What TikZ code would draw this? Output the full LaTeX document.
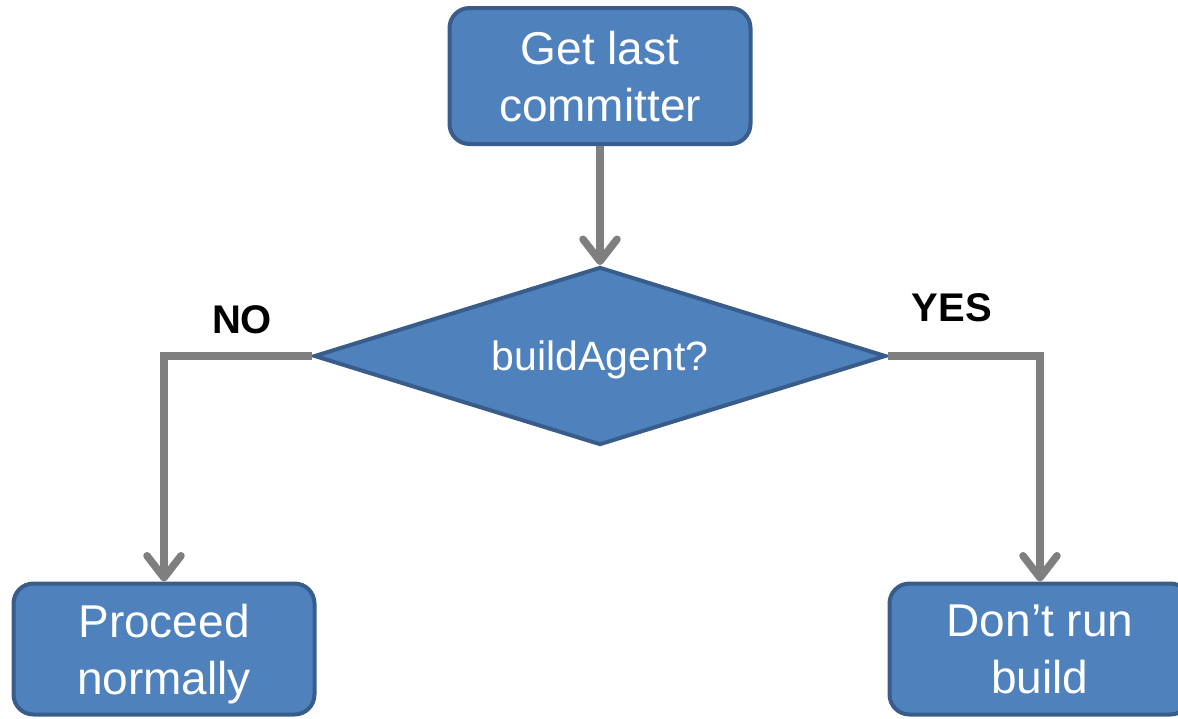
\documentclass[tikz,border=0pt]{standalone}
\usepackage{fontspec}
\setmainfont{Liberation Sans}
\usetikzlibrary{shapes.geometric,arrows.meta}
\definecolor{boxfill}{HTML}{4F81BD}
\definecolor{boxline}{HTML}{385D8A}
\definecolor{conn}{HTML}{7F7F7F}
\begin{document}
\begin{tikzpicture}[x=1pt,y=1pt,
  procbox/.style={rectangle, rounded corners=20pt, draw=boxline, fill=boxfill,
    line width=4pt, minimum width=301pt, text=white, align=center,
    font=\fontsize{46}{57}\selectfont, text depth=0pt, inner sep=0pt},
  decbox/.style={diamond, aspect=3.2, draw=boxline, fill=boxfill, line width=4pt,
    minimum width=572pt, minimum height=178pt, text=white, inner sep=0pt,
    font=\fontsize{41}{50}\selectfont, text depth=0pt},
  lbl/.style={font=\fontsize{40}{48}\selectfont\bfseries, text=black, inner sep=0pt},
  flow/.style={draw=conn, line width=7.5pt,
    -{Straight Barb[length=22pt,width=34pt,round]}}]
\useasboundingbox (0,0) rectangle (1178,-718);
\begin{scope}
\clip (0,0) rectangle (1178,-718);
\node[procbox, minimum height=136pt] (get) at (600,-76) {Get last\\committer};
\node[decbox] (dec) at (600,-356) {buildAgent?};
\node[procbox, minimum height=131pt] (proc) at (164,-649) {Proceed\\normally};
\node[procbox, minimum height=131pt] (dont) at (1040,-649) {Don’t run\\build};
\draw[flow] (get.south) -- (dec.north);
\draw[flow] (dec.west) -| (proc.north);
\draw[flow] (dec.east) -| (dont.north);
\node[lbl] (no) at (242,-320) {NO};
\node[lbl] (yes) at (952,-308) {YES};
\end{scope}
\end{tikzpicture}
\end{document}
